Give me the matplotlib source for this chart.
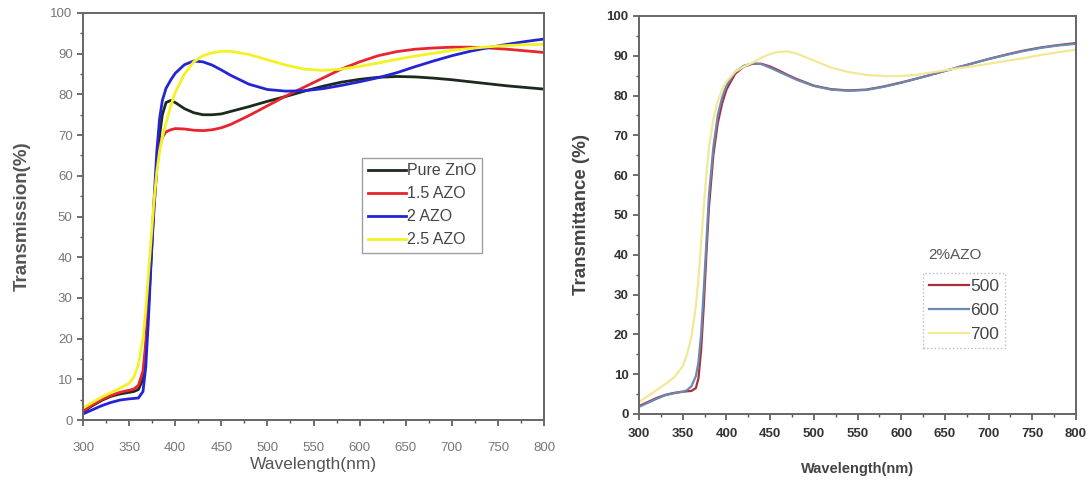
import matplotlib
matplotlib.use("Agg")
import matplotlib.pyplot as plt
from matplotlib.ticker import MultipleLocator

plt.rcParams['font.family'] = ['Liberation Sans', 'DejaVu Sans']

# --- Left panel data ---
wl_left = [300, 310, 320, 330, 340, 350, 355, 360, 365, 368, 371, 374, 377, 380, 383,
           386, 390, 395, 400, 410, 420, 430, 440, 450, 460, 480, 500, 520, 540, 560,
           580, 600, 620, 640, 660, 680, 700, 720, 740, 760, 780, 800]
pure_zno = [2.0, 3.5, 4.8, 5.8, 6.4, 6.8, 7.0, 7.5, 10, 17, 28, 40, 52, 62, 70,
            75, 78, 78.5, 78, 76.5, 75.5, 75.0, 75.0, 75.2, 75.8, 77.0, 78.3, 79.5, 80.8, 82.0,
            83.0, 83.7, 84.2, 84.4, 84.3, 84.0, 83.6, 83.1, 82.6, 82.1, 81.7, 81.3]
azo_15 = [2.2, 3.7, 5.0, 6.0, 6.8, 7.3, 7.6, 8.5, 12, 19, 30, 42, 53, 62, 67,
          69.5, 70.8, 71.3, 71.6, 71.5, 71.2, 71.1, 71.3, 71.8, 72.6, 74.8, 77.2, 79.6, 81.8, 84.0,
          86.2, 88.0, 89.5, 90.5, 91.1, 91.4, 91.6, 91.6, 91.4, 91.1, 90.7, 90.3]
azo_2 = [1.5, 2.5, 3.5, 4.3, 4.9, 5.2, 5.3, 5.4, 7, 13, 25, 40, 54, 66, 74,
         78.5, 81.5, 83.5, 85.2, 87.3, 88.2, 88.0, 87.2, 86.0, 84.7, 82.5, 81.2, 80.8, 80.9, 81.4,
         82.2, 83.1, 84.1, 85.3, 86.8, 88.2, 89.5, 90.6, 91.5, 92.3, 93.0, 93.6]
azo_25 = [3.0, 4.3, 5.6, 6.7, 7.8, 9.0, 10.5, 13.5, 20, 27, 36, 45, 54, 61, 66,
          69.5, 73, 77, 80.5, 85, 88, 89.5, 90.2, 90.6, 90.6, 89.8, 88.5, 87.2, 86.2, 85.9,
          86.2, 86.9, 87.7, 88.6, 89.4, 90.1, 90.8, 91.3, 91.7, 92.0, 92.2, 92.3]
labels_left = ['Pure ZnO', '1.5 AZO', '2 AZO', '2.5 AZO']
colors_left = ['#1c2a1c', '#e8242c', '#2424d4', '#f2f224']

# --- Right panel data ---
wl_right = [300, 310, 320, 330, 340, 350, 355, 360, 365, 368, 371, 374, 377, 380, 385,
            390, 395, 400, 410, 420, 430, 440, 450, 460, 470, 480, 500, 520, 540, 560,
            580, 600, 620, 640, 660, 680, 700, 720, 740, 760, 780, 800]
t_500 = [2.0, 3.0, 4.0, 4.8, 5.3, 5.6, 5.7, 5.8, 6.5, 9, 16, 27, 40, 52, 65,
         73, 78, 81.5, 85.5, 87.3, 88.0, 88.0, 87.3, 86.3, 85.2, 84.2, 82.5, 81.6, 81.3, 81.5,
         82.3, 83.3, 84.4, 85.6, 86.8, 88.0, 89.2, 90.3, 91.3, 92.1, 92.7, 93.2]
t_600 = [1.8, 2.8, 3.8, 4.7, 5.2, 5.6, 6.0, 7.0, 9.5, 13, 20, 31, 43, 55, 67,
         75, 79.5, 82.5, 86, 87.5, 88.1, 87.9, 87.0, 86.0, 85.0, 84.0, 82.4, 81.5, 81.2, 81.4,
         82.2, 83.2, 84.4, 85.6, 86.8, 88.0, 89.2, 90.2, 91.2, 92.0, 92.6, 93.0]
t_700 = [3.0, 4.5, 6.0, 7.5, 9.2, 12.0, 15.0, 19.5, 27, 34, 43, 52, 60, 67, 74,
         78.5, 81.5, 83.5, 86, 87.3, 88.3, 89.5, 90.5, 91.0, 91.1, 90.6, 88.8, 87.0, 85.9, 85.2,
         84.9, 84.9, 85.3, 86.0, 86.7, 87.3, 88.0, 88.7, 89.4, 90.2, 90.9, 91.5]
labels_right = ['500', '600', '700']
colors_right = ['#a8303e', '#6a88b0', '#f2e898']

fig = plt.figure(figsize=(10.87, 4.83), dpi=100)
ax1 = fig.add_axes([0.0764, 0.1304, 0.4241, 0.8427])
ax2 = fig.add_axes([0.5879, 0.1429, 0.4020, 0.8240])

for ys, lab, c in zip([pure_zno, azo_15, azo_2, azo_25], labels_left, colors_left):
    ax1.plot(wl_left, ys, color=c, lw=2.0, label=lab)
for ys, lab, c in zip([t_500, t_600, t_700], labels_right, colors_right):
    ax2.plot(wl_right, ys, color=c, lw=1.6, label=lab)

def style_axis(ax, tick_color, bold, pad):
    ax.set_xlim(300, 800)
    ax.set_ylim(0, 100)
    ax.xaxis.set_major_locator(MultipleLocator(50))
    ax.xaxis.set_minor_locator(MultipleLocator(25))
    ax.yaxis.set_major_locator(MultipleLocator(10))
    ax.yaxis.set_minor_locator(MultipleLocator(5))
    ax.tick_params(which='major', direction='out', length=4, width=1.2,
                   colors='#555555', labelsize=9.5, labelcolor=tick_color)
    ax.tick_params(axis='x', which='major', pad=pad)
    ax.tick_params(which='minor', direction='out', length=2.5, width=1.0, colors='#555555')
    ax.tick_params(top=False, right=False, which='both')
    for sp in ax.spines.values():
        sp.set_color('#666666')
        sp.set_linewidth(1.4)
    if bold:
        for t in ax.get_xticklabels() + ax.get_yticklabels():
            t.set_fontweight('bold')

style_axis(ax1, '#777777', False, 12)
style_axis(ax2, '#333333', True, 6)

ax1.set_xlabel('Wavelength(nm)', fontsize=12.5, color='#555555', labelpad=2)
ax1.set_ylabel('Transmission(%)', fontsize=13.5, fontweight='bold', color='#555555', labelpad=14)
ax2.set_xlabel('Wavelength(nm)', fontsize=10.5, fontweight='bold', color='#444444', labelpad=16)
ax2.set_ylabel('Transmittance (%)', fontsize=13.5, fontweight='bold', color='#444444', labelpad=12)

leg1 = ax1.legend(loc='upper left', bbox_to_anchor=(0.605, 0.644), frameon=True, fancybox=False,
                  fontsize=11.5, handlelength=2.4, handletextpad=0.05, labelspacing=0.5,
                  borderpad=0.35, borderaxespad=0)
leg1.get_frame().set_edgecolor('#888888')
leg1.get_frame().set_linewidth(1.0)
for t in leg1.get_texts():
    t.set_color('#444444')

ax2.text(0.661, 0.39, '2%AZO', transform=ax2.transAxes, fontsize=11, color='#555555')
leg2 = ax2.legend(loc='upper left', bbox_to_anchor=(0.65, 0.355), frameon=True, fancybox=False,
                  fontsize=12.5, handlelength=2.3, handletextpad=0.05, labelspacing=0.5,
                  borderpad=0.35, borderaxespad=0)
leg2.get_frame().set_edgecolor('#aaaaaa')
leg2.get_frame().set_linestyle(':')
leg2.get_frame().set_linewidth(1.0)
for t in leg2.get_texts():
    t.set_color('#444444')

fig.savefig('out.png', dpi=100)
